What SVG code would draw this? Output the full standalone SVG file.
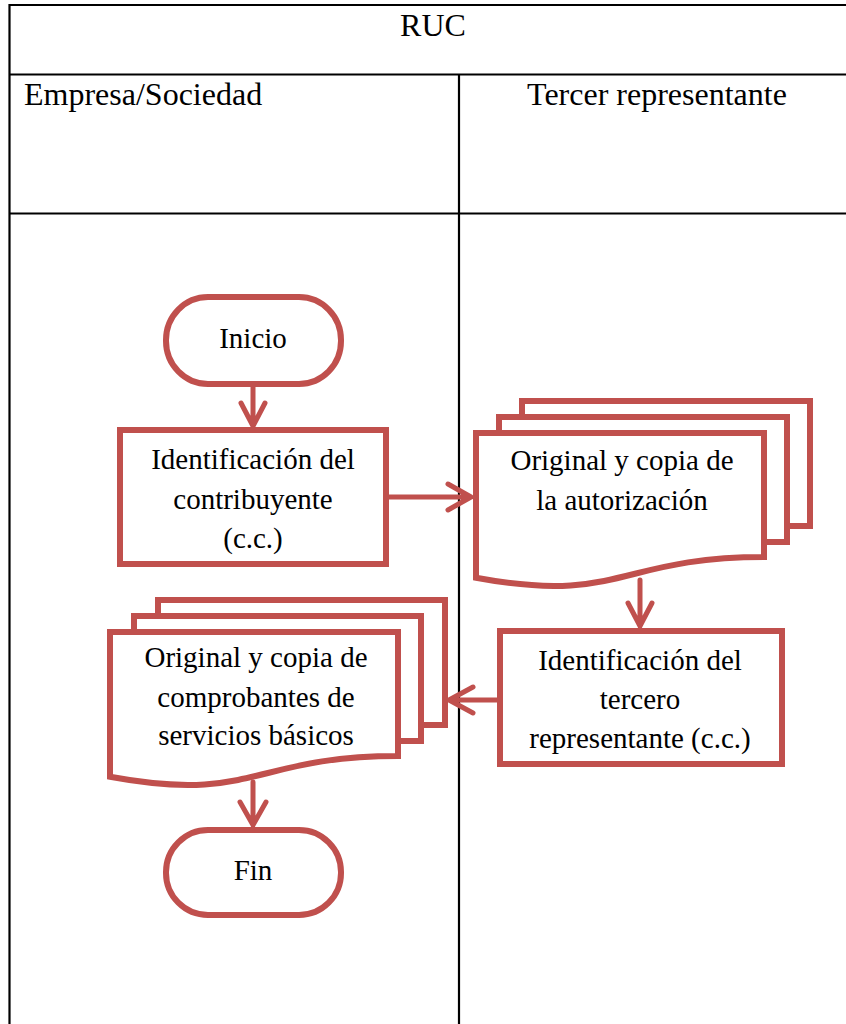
<svg xmlns="http://www.w3.org/2000/svg" width="846" height="1024" viewBox="0 0 846 1024">
<style>
.grid{stroke:#000;stroke-width:2.2;fill:none}
.hd{font-family:"Liberation Serif","Times New Roman",serif;font-size:32px;fill:#000}
.tx{font-family:"Liberation Serif","Times New Roman",serif;font-size:29px;fill:#000;text-anchor:middle}
.sh{stroke:#C0504D;stroke-width:6;fill:#fff;stroke-linejoin:miter}
.cn{stroke:#C0504D;stroke-width:5;fill:none;stroke-linecap:round;stroke-linejoin:round}
</style>
<rect width="846" height="1024" fill="#fff"/>
<g id="table">
<path class="grid" d="M9.5,1024 V5 H846 M9.5,74.5 H846 M9.5,213.5 H846 M459,74.5 V1024"/>
<text class="hd" x="433" y="36" text-anchor="middle">RUC</text>
<text class="hd" x="24" y="105">Empresa/Sociedad</text>
<text class="hd" x="657" y="105" text-anchor="middle">Tercer representante</text>
</g>
<g id="connectors">
<path class="cn" d="M253,384 V426 M241,403 L253,426 L265,403"/>
<path class="cn" d="M389,497 H471 M448,484 L471,497 L448,510"/>
<path class="cn" d="M640,580 V626 M628,603 L640,626 L652,603"/>
<path class="cn" d="M497,700 H449 M473,687 L449,700 L473,713"/>
<path class="cn" d="M253,782 V825 M240,802 L253,825 L266,802"/>
</g>
<g id="inicio">
<rect class="sh" x="166" y="297" width="175" height="87" rx="42" ry="43"/>
<text class="tx" x="253" y="348">Inicio</text>
</g>
<g id="identificacion-contribuyente">
<rect class="sh" x="120" y="430" width="266" height="134"/>
<text class="tx" x="253" y="469">Identificación del</text>
<text class="tx" x="253" y="509">contribuyente</text>
<text class="tx" x="253" y="548">(c.c.)</text>
</g>
<g id="original-autorizacion">
<rect class="sh" x="522" y="401" width="288" height="125"/>
<rect class="sh" x="499" y="417" width="288" height="125"/>
<path class="sh" d="M476,433 H764 V557 C620,557 620,604.6 476,577.8 Z"/>
<text class="tx" x="622" y="470">Original y copia de</text>
<text class="tx" x="622" y="510">la autorización</text>
</g>
<g id="identificacion-tercero">
<rect class="sh" x="500" y="631" width="282" height="133"/>
<text class="tx" x="640" y="670">Identificación del</text>
<text class="tx" x="640" y="709">tercero</text>
<text class="tx" x="640" y="748">representante (c.c.)</text>
</g>
<g id="original-comprobantes">
<rect class="sh" x="158" y="600" width="287" height="125"/>
<rect class="sh" x="134" y="616" width="287" height="125"/>
<path class="sh" d="M110,632 H398 V756 C254,756 254,803.6 110,776.8 Z"/>
<text class="tx" x="256" y="667">Original y copia de</text>
<text class="tx" x="256" y="707">comprobantes de</text>
<text class="tx" x="256" y="745">servicios básicos</text>
</g>
<g id="fin">
<rect class="sh" x="166" y="830" width="175" height="85" rx="42" ry="42"/>
<text class="tx" x="253" y="880">Fin</text>
</g>
</svg>
